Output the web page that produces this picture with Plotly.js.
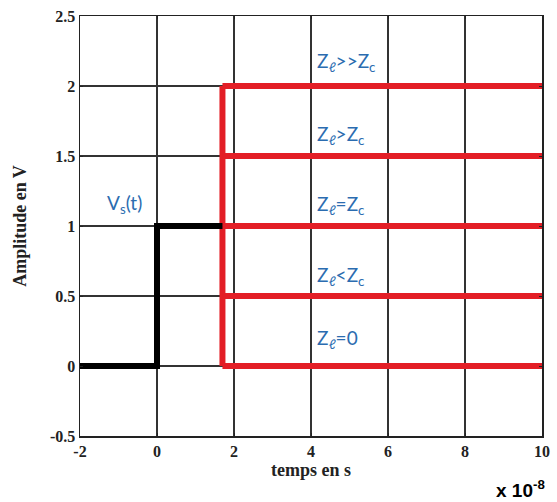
<!DOCTYPE html>
<html>
<head>
<meta charset="utf-8">
<script src="https://cdn.plot.ly/plotly-3.0.1.min.js"></script>
<style>html,body{margin:0;padding:0;background:#fff;}#chart{width:557px;height:502px;}</style>
</head>
<body>
<div id="chart"></div>
<script>
// Source signal Vs(t)
var vsTime = [-2, 0, 0, 1.7];
var vsAmp = [0, 0, 1, 1];
// Reflected/load levels
var levelValues = [0, 0.5, 1, 1.5, 2];
var levelStart = 1.7;
var levelEnd = 10;
var levelLabels = ["Z<sub>ℓ</sub>=0", "Z<sub>ℓ</sub><Z<sub>c</sub>", "Z<sub>ℓ</sub>=Z<sub>c</sub>", "Z<sub>ℓ</sub>>Z<sub>c</sub>", "Z<sub>ℓ</sub>>>Z<sub>c</sub>"];
var labelY = [0.19, 0.64, 1.15, 1.65, 2.17];
var labelX = 4.1;
var xTicks = [-2, 0, 2, 4, 6, 8, 10];
var yTicks = [-0.5, 0, 0.5, 1, 1.5, 2, 2.5];
var yTickText = ["-0.5", "0", "0.5", "1", "1.5", "2", "2.5"];

var RED = "#e31e26";
var BLUE = "#2b6cb0";

var redX = [levelStart, levelStart], redY = [levelValues[0], levelValues[levelValues.length - 1]];
levelValues.forEach(function (v) {
  redX.push(null, levelStart, levelEnd);
  redY.push(null, v, v);
});

var traces = [
  {x: redX, y: redY, mode: "lines", line: {color: RED, width: 6}, hoverinfo: "skip", showlegend: false},
  {x: vsTime, y: vsAmp, mode: "lines", line: {color: "#000", width: 6}, hoverinfo: "skip", showlegend: false}
];

var labelFont = {family: "Lato, 'Liberation Sans', sans-serif", size: 19, color: BLUE};
var annotations = levelLabels.map(function (t, i) {
  return {x: labelX, y: labelY[i], xref: "x", yref: "y", text: t, showarrow: false, xanchor: "left", yanchor: "middle", font: labelFont};
});
annotations.push({x: -0.85, y: 1.16, xref: "x", yref: "y", text: "V<sub>s</sub>(t)", showarrow: false, xanchor: "center", yanchor: "middle", font: labelFont});
annotations.push({x: 1.01, y: -0.125, xref: "paper", yref: "paper", text: "<b>x 10<sup>-8</sup></b>", showarrow: false, xanchor: "right", yanchor: "middle",
  font: {family: "'Liberation Sans', Arial, sans-serif", size: 19, color: "#000"}});

var tickFont = {family: "'Liberation Serif', 'Times New Roman', serif", size: 16, color: "#222", weight: "bold"};
var axisCommon = {
  showgrid: true, gridcolor: "#333", gridwidth: 1.3,
  showline: true, linecolor: "#222", linewidth: 1.5, mirror: "ticks",
  ticks: "inside", ticklen: 3, tickcolor: "#222", zeroline: false,
  tickfont: tickFont
};

var layout = {
  width: 557, height: 502,
  margin: {l: 80, r: 15, t: 16, b: 66},
  paper_bgcolor: "#fff", plot_bgcolor: "#fff",
  showlegend: false,
  xaxis: Object.assign({}, axisCommon, {
    range: [-2, 10], tickvals: xTicks, ticktext: xTicks.map(String),
    title: {text: "<b>temps en s</b>", font: {family: "'Liberation Serif', 'Times New Roman', serif", size: 18, color: "#222"}, standoff: 4}
  }),
  yaxis: Object.assign({}, axisCommon, {
    range: [-0.5, 2.5], tickvals: yTicks, ticktext: yTickText,
    title: {text: "<b>Amplitude en V</b>", font: {family: "'Liberation Serif', 'Times New Roman', serif", size: 18, color: "#222"}, standoff: 18}
  }),
  annotations: annotations
};

Plotly.newPlot("chart", traces, layout, {displayModeBar: false, staticPlot: true});
</script>
</body>
</html>
